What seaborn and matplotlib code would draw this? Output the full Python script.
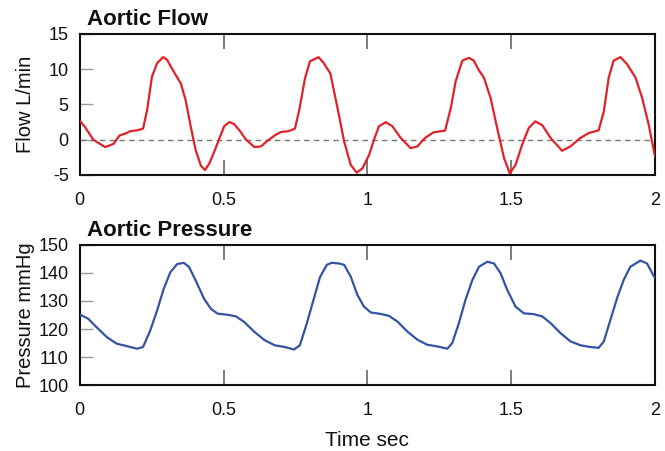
import matplotlib
matplotlib.use("Agg")
import matplotlib.pyplot as plt
import seaborn as sns

# ---- data ----
flow_t = [0.0, 0.018, 0.047, 0.088, 0.117, 0.138, 0.158, 0.175, 0.199, 0.22,
          0.234, 0.251, 0.269, 0.29, 0.304, 0.316, 0.333, 0.351, 0.368, 0.386,
          0.403, 0.421, 0.435, 0.45, 0.467, 0.485, 0.502, 0.52, 0.537, 0.555,
          0.578, 0.607, 0.63, 0.654, 0.678, 0.70, 0.725, 0.748, 0.763, 0.783,
          0.80, 0.83, 0.848, 0.871, 0.896, 0.919, 0.942, 0.963, 0.983, 1.006,
          1.023, 1.04, 1.064, 1.087, 1.116, 1.15, 1.174, 1.20, 1.23, 1.27,
          1.29, 1.307, 1.33, 1.353, 1.37, 1.388, 1.405, 1.428, 1.451, 1.475,
          1.495, 1.515, 1.538, 1.561, 1.584, 1.608, 1.637, 1.677, 1.706, 1.74,
          1.77, 1.804, 1.822, 1.839, 1.856, 1.88, 1.903, 1.932, 1.955, 1.978, 2.0]
flow_v = [2.7, 1.8, 0.0, -1.05, -0.6, 0.6, 0.86, 1.2, 1.33, 1.57,
          4.2, 8.95, 10.86, 11.7, 11.3, 10.4, 9.2, 8.0, 5.6, 1.8,
          -1.5, -3.67, -4.3, -3.4, -1.76, 0.14, 1.9, 2.5, 2.2, 1.33,
          0.0, -1.05, -0.95, -0.1, 0.62, 1.1, 1.2, 1.57, 4.2, 8.7,
          11.1, 11.7, 10.86, 9.4, 4.5, -0.24, -3.57, -4.67, -4.05, -2.14,
          0.0, 1.9, 2.48, 1.9, 0.24, -1.2, -0.95, 0.24, 1.05, 1.29,
          4.5, 8.3, 11.2, 11.6, 11.2, 9.8, 8.8, 5.95, 1.67, -2.6,
          -4.76, -3.57, -0.7, 1.67, 2.6, 2.05, 0.24, -1.57, -0.95, 0.24,
          0.95, 1.33, 4.0, 8.8, 11.2, 11.7, 10.7, 8.8, 5.95, 2.14, -2.4]

press_t = [0.0, 0.029, 0.058, 0.093, 0.128, 0.164, 0.199, 0.22, 0.245, 0.269,
           0.292, 0.315, 0.339, 0.362, 0.38, 0.403, 0.432, 0.456, 0.479, 0.514,
           0.543, 0.572, 0.607, 0.643, 0.678, 0.713, 0.745, 0.765, 0.789, 0.812,
           0.835, 0.859, 0.876, 0.90, 0.919, 0.942, 0.965, 0.988, 1.012, 1.046,
           1.075, 1.104, 1.139, 1.174, 1.208, 1.243, 1.278, 1.295, 1.318, 1.341,
           1.365, 1.388, 1.417, 1.44, 1.463, 1.486, 1.515, 1.544, 1.579, 1.608,
           1.637, 1.671, 1.706, 1.741, 1.775, 1.804, 1.822, 1.845, 1.868, 1.891,
           1.914, 1.949, 1.972, 2.0]
press_v = [125.2, 123.7, 120.7, 117.2, 114.8, 113.9, 113.0, 113.6, 119.5, 126.7,
           134.4, 140.3, 143.2, 143.6, 142.1, 137.3, 130.8, 127.2, 125.5, 125.1,
           124.5, 122.5, 119.0, 116.0, 114.2, 113.6, 112.7, 114.2, 121.9, 130.2,
           138.5, 142.9, 143.6, 143.4, 142.9, 138.7, 132.2, 128.0, 125.9, 125.4,
           124.7, 122.7, 119.1, 116.2, 114.4, 113.8, 113.0, 115.0, 122.1, 130.4,
           137.5, 142.2, 144.0, 143.4, 139.9, 134.0, 128.0, 125.6, 125.3, 124.5,
           122.1, 118.6, 115.6, 114.2, 113.6, 113.3, 115.6, 123.3, 131.0, 137.5,
           142.2, 144.4, 143.4, 138.1]

x_ticks = [0, 0.5, 1, 1.5, 2]
x_labels = ["0", "0.5", "1", "1.5", "2"]
flow_ticks = [-5, 0, 5, 10, 15]
flow_labels = ["-5", "0", "5", "10", "15"]
press_ticks = [100, 110, 120, 130, 140, 150]
press_labels = ["100", "110", "120", "130", "140", "150"]

sns.set_style("ticks")
plt.rcParams["font.family"] = ["Liberation Sans", "DejaVu Sans"]

fig = plt.figure(figsize=(6.65, 4.51), dpi=100)
ax1 = fig.add_axes([0.120, 0.612, 0.865, 0.313])
ax2 = fig.add_axes([0.120, 0.146, 0.865, 0.311])

ax1.axhline(0, color="#777777", lw=1, ls=(0, (4, 3)), zorder=1)
sns.lineplot(x=flow_t, y=flow_v, ax=ax1, color="#e02228", lw=1.6,
             sort=False, estimator=None, zorder=3)
sns.lineplot(x=press_t, y=press_v, ax=ax2, color="#3552a3", lw=1.6,
             sort=False, estimator=None, zorder=3)

for ax, yt, yl, ylim, lab, title in [
        (ax1, flow_ticks, flow_labels, (-5, 15), "Flow L/min", "Aortic Flow"),
        (ax2, press_ticks, press_labels, (100, 150), "Pressure mmHg", "Aortic Pressure")]:
    ax.set_xlim(0, 2)
    ax.set_ylim(*ylim)
    ax.set_xticks(x_ticks)
    ax.set_xticklabels(x_labels)
    ax.set_yticks(yt)
    ax.set_yticklabels(yl)
    for s in ax.spines.values():
        s.set_visible(True)
        s.set_linewidth(1.5)
        s.set_color("#111111")
    ax.tick_params(axis="x", direction="in", top=True, length=11, width=1.2,
                   color="#666666", labelsize=13, pad=12, labelcolor="#111111")
    ax.tick_params(axis="y", direction="in", length=9, width=1.0,
                   color="#999999", labelsize=13, pad=8, labelcolor="#111111")
    ax.set_ylabel(lab, fontsize=14.5, color="#111111")
    ax.yaxis.set_label_coords(-0.078, 0.5)
    ax.text(0.012, 1.1, title, transform=ax.transAxes, fontsize=16,
            fontweight="bold", va="center", ha="left", color="#111111")

ax1.set_xlabel("")
ax2.set_xlabel("Time sec", fontsize=15, color="#111111")
ax2.xaxis.set_label_coords(0.5, -0.33)

fig.savefig("out.png", dpi=100)
